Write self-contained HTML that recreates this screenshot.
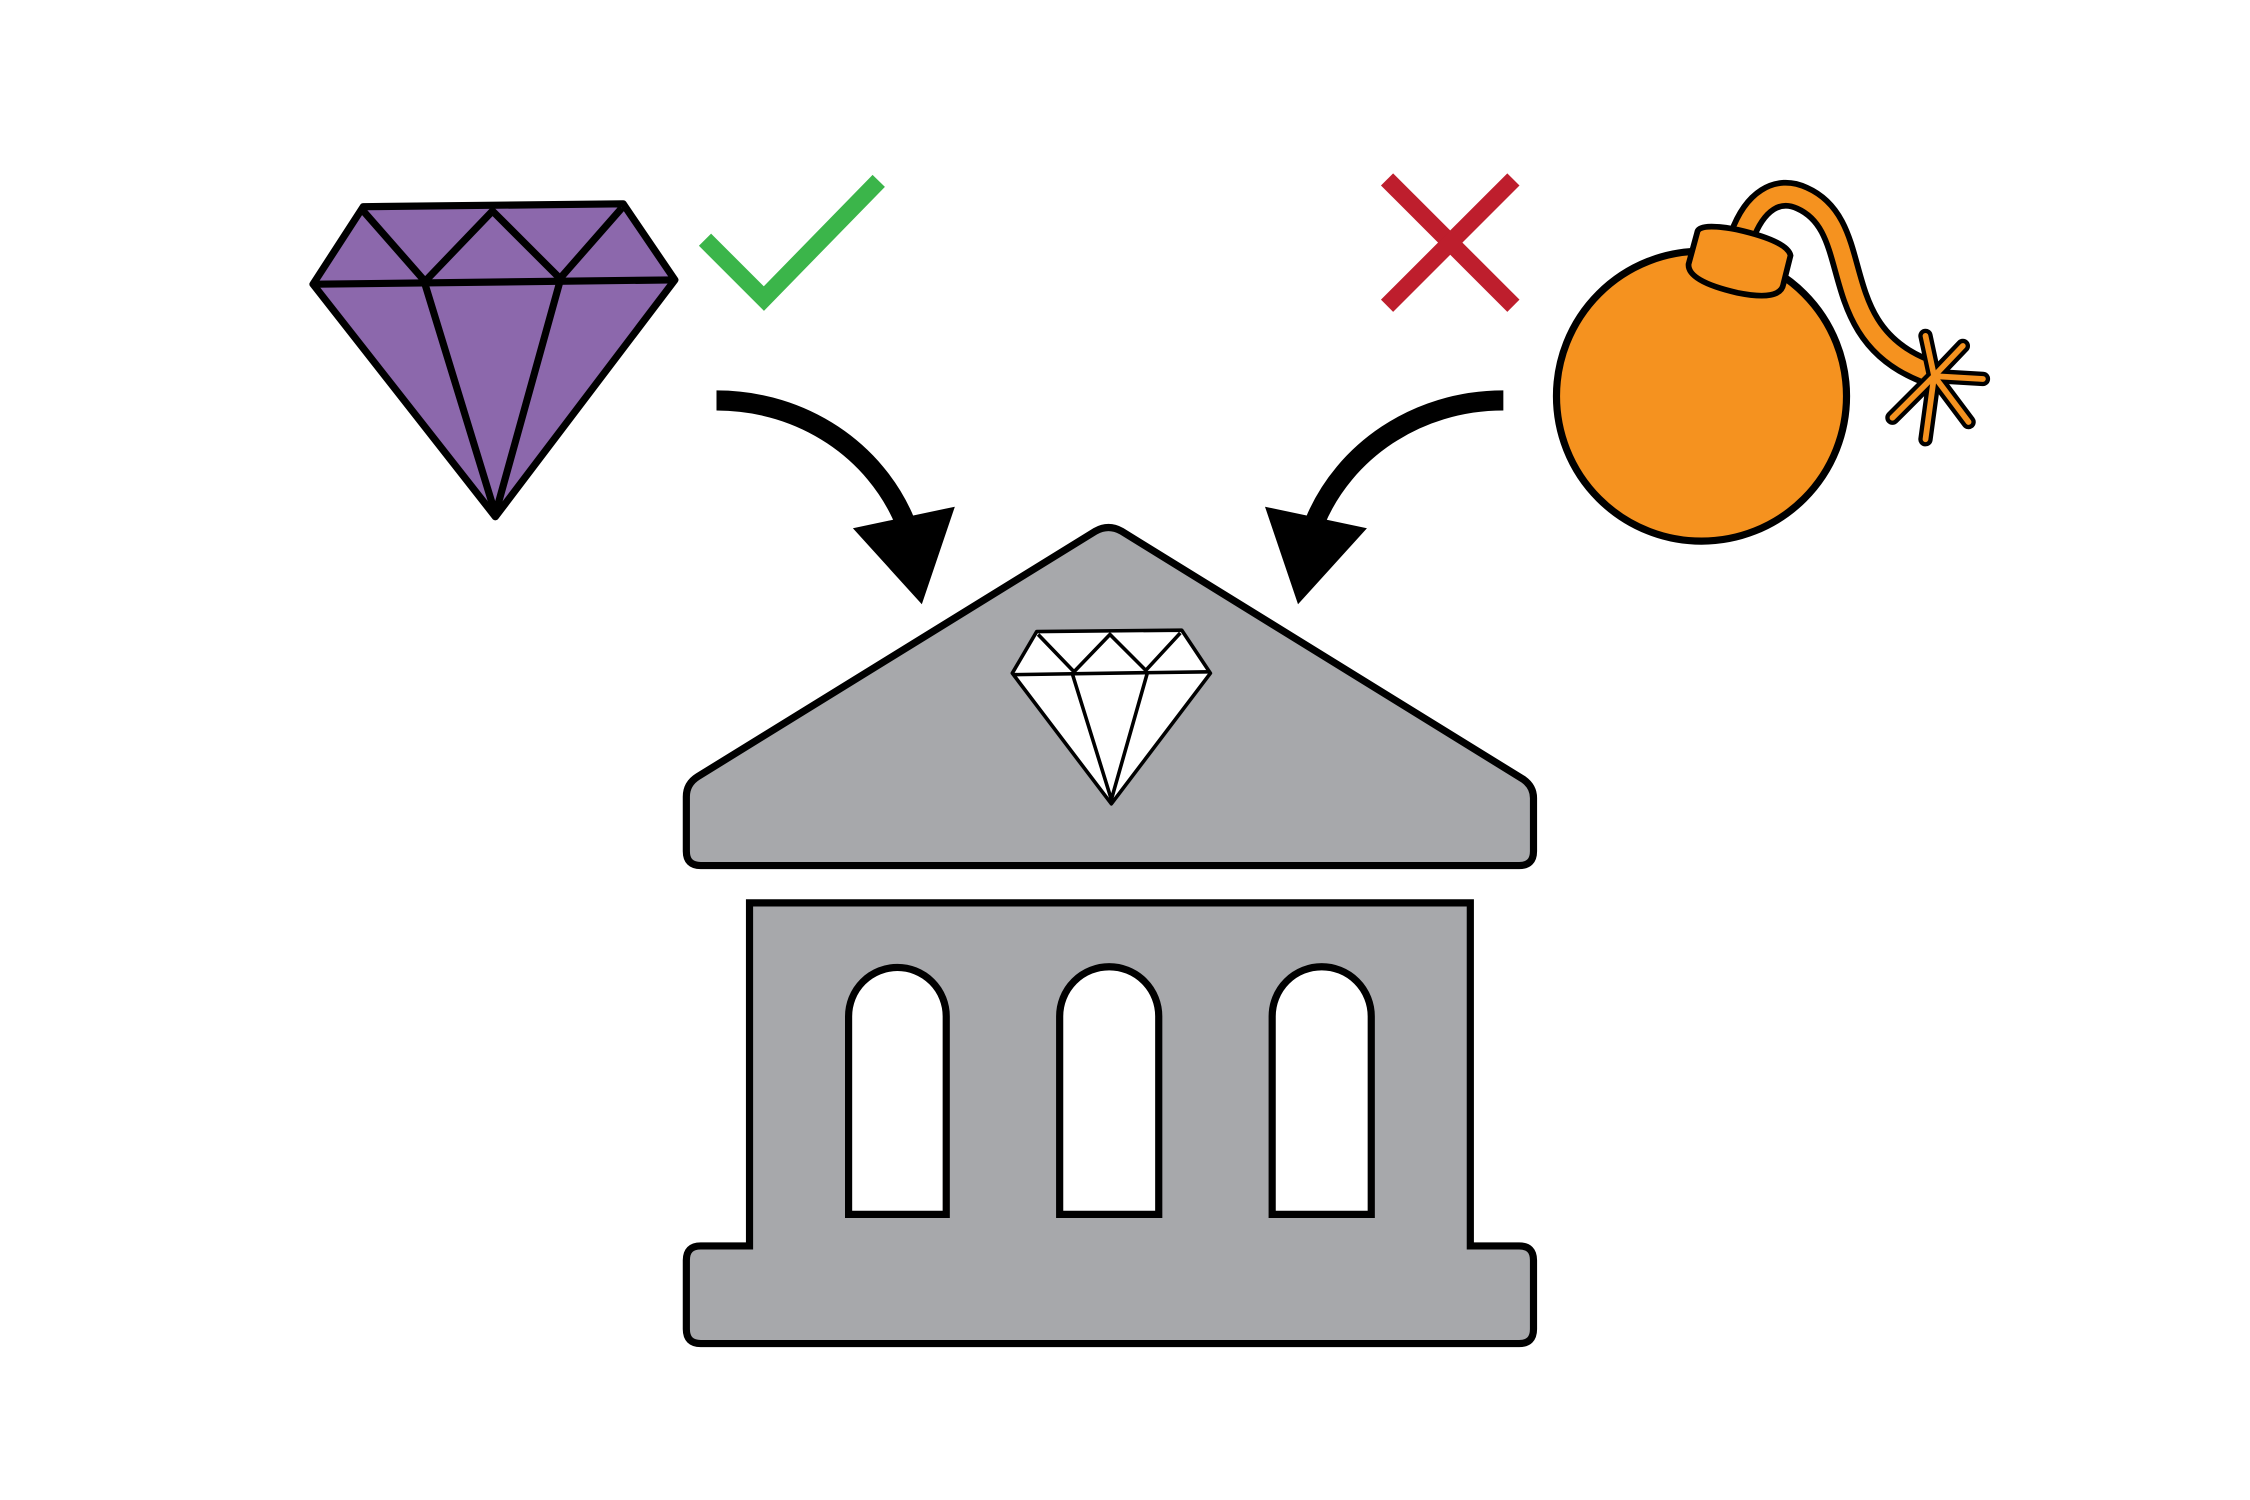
<!DOCTYPE html>
<html><head><meta charset="utf-8"><style>
html,body{margin:0;padding:0;background:#fff;width:2250px;height:1500px;overflow:hidden}
</style></head><body>
<svg width="2250" height="1500" viewBox="0 0 1567 1045" preserveAspectRatio="none" xmlns="http://www.w3.org/2000/svg">
<rect width="1567" height="1045" fill="#fff"/>
<g stroke="#000" stroke-linejoin="round">
  <polygon points="218,198 253,144 434,142 470,195 345,360" fill="#8c68ac" stroke-width="5"/>
  <g fill="none" stroke-width="5">
    <line x1="220" y1="198" x2="468" y2="195"/>
    <polyline points="253,147 296,196 343,147 390,194 433,145"/>
    <polyline points="296,198 345,358 390,196"/>
  </g>
</g>
<polyline points="491,167 532,208 612,126" fill="none" stroke="#3bb54a" stroke-width="12"/>
<g stroke="#be1e2d" stroke-width="12">
  <line x1="966" y1="125" x2="1054" y2="213"/><line x1="1054" y1="125" x2="966" y2="213"/>
</g>
<g>
  <path d="M499,279 C560,279 610,315 630,363" fill="none" stroke="#000" stroke-width="14"/>
  <polygon points="594,368 665,353 642,421" fill="#000"/>
</g>
<g>
  <path d="M1047,279 C986,279 936,315 916,363" fill="none" stroke="#000" stroke-width="14"/>
  <polygon points="952,368 881,353 904,421" fill="#000"/>
</g>
<g stroke="#000" stroke-width="5" fill="#a7a8ab">
  <path d="M488,603 Q478,603 478,593 V555 Q478,546 486,541 L763,370 Q772,365 781,370 L1061,543 Q1068,548 1068,556 V593 Q1068,603 1058,603 Z"/>
  <path d="M522,868 V629 H1024 V868 H1058 Q1068,868 1068,878 V926 Q1068,936 1058,936 H488 Q478,936 478,926 V878 Q478,868 488,868 Z"/>
  <g fill="#fff">
    <path d="M591,846 V708 A34,34 0 0 1 659,708 V846 Z"/>
    <path d="M738,846 V708 A34.5,34.5 0 0 1 807,708 V846 Z"/>
    <path d="M886,846 V708 A34.5,34.5 0 0 1 955,708 V846 Z"/>
  </g>
  <g fill="#fff" stroke-width="2.5" stroke-linejoin="round">
    <polygon points="705,469 722,440 823,439 843,469 774,560"/>
    <line x1="706" y1="470" x2="842" y2="468" />
    <polyline points="723,442 748,468 773,442 798,467 822,441" fill="none"/>
    <polyline points="747,470 774,557 799,469" fill="none"/>
  </g>
</g>
<g stroke="#000">
  <path d="M1213,165 C1222,140 1238,130 1255,138 C1300,158 1270,230 1340,258" fill="none" stroke="#000" stroke-width="20" stroke-linecap="round"/>
  <path d="M1213,165 C1222,140 1238,130 1255,138 C1300,158 1270,230 1340,258" fill="none" stroke="#f5921f" stroke-width="12" stroke-linecap="round"/>
  <circle cx="1185" cy="276" r="101" fill="#f5921f" stroke-width="5"/>
  <path d="M1182,162 Q1183,155 1210,160 Q1245,168 1247,178 L1242,198 Q1240,210 1210,204 Q1175,196 1176,184 Z" fill="#f5921f" stroke-width="4"/>
  <g stroke-width="10" stroke-linecap="round">
    <line x1="1347" y1="262" x2="1341" y2="234"/><line x1="1347" y1="262" x2="1367" y2="241"/>
    <line x1="1347" y1="262" x2="1381" y2="264"/><line x1="1347" y1="262" x2="1371" y2="294"/>
    <line x1="1347" y1="262" x2="1341" y2="306"/><line x1="1347" y1="262" x2="1318" y2="291"/>
  </g>
  <g stroke="#f5921f" stroke-width="4" stroke-linecap="round">
    <line x1="1347" y1="262" x2="1341" y2="234"/><line x1="1347" y1="262" x2="1367" y2="241"/>
    <line x1="1347" y1="262" x2="1381" y2="264"/><line x1="1347" y1="262" x2="1371" y2="294"/>
    <line x1="1347" y1="262" x2="1341" y2="306"/><line x1="1347" y1="262" x2="1318" y2="291"/>
  </g>
</g>
</svg>
</body></html>
